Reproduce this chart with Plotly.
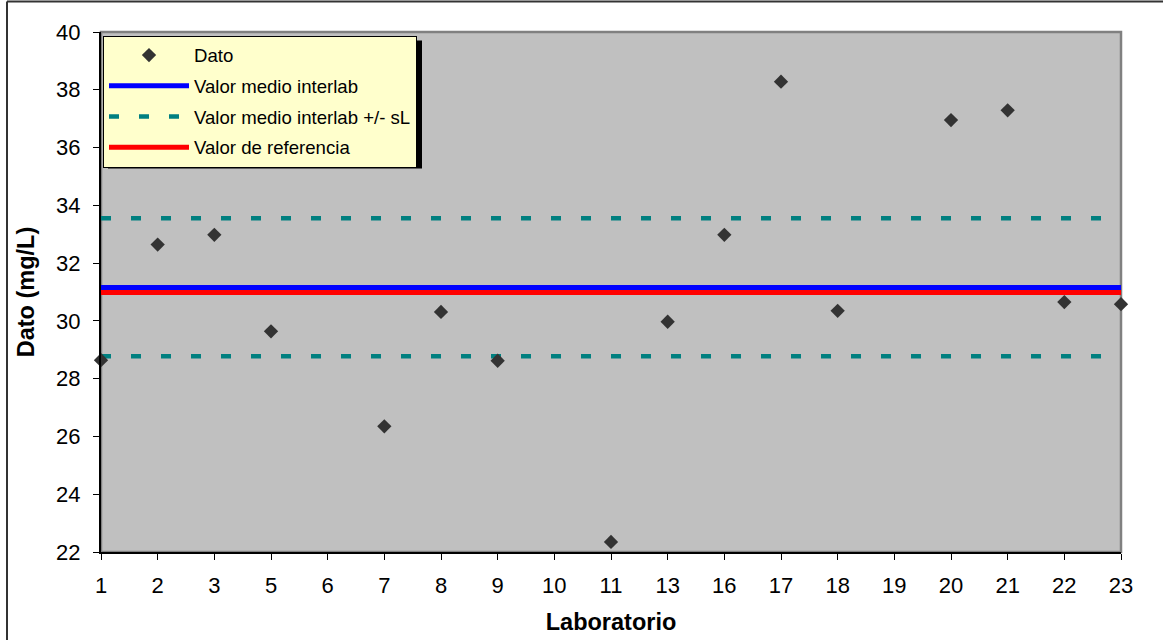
import plotly.graph_objects as go

# ---- data ----
all_labs = ["1", "2", "3", "5", "6", "7", "8", "9", "10", "11", "13", "16",
            "17", "18", "19", "20", "21", "22", "23"]
labs = ["1", "2", "3", "5", "7", "8", "9", "11", "13", "16", "17", "18",
        "20", "21", "22", "23"]
dato = [28.64, 32.64, 32.98, 29.64, 26.35, 30.31, 28.62, 22.35, 29.97, 32.98,
        38.28, 30.35, 36.95, 37.29, 30.65, 30.58]
valor_medio = 31.16
valor_medio_mas_sl = 33.55
valor_medio_menos_sl = 28.78
valor_referencia = 30.98
y_ticks = [22, 24, 26, 28, 30, 32, 34, 36, 38, 40]

FONT = "Liberation Sans, Arial, sans-serif"
n = len(all_labs)

fig = go.Figure()

fig.add_trace(go.Scatter(
    x=all_labs, y=[valor_medio] * n, mode="lines",
    name="Valor medio interlab", legendgroup="m", legendrank=2,
    line=dict(color="#0000FF", width=5), hoverinfo="skip"))
fig.add_trace(go.Scatter(
    x=all_labs, y=[valor_medio_mas_sl] * n, mode="lines",
    name="Valor medio interlab +/- sL", legendgroup="s", legendrank=3,
    line=dict(color="#008080", width=4.5, dash="10px,20px"), hoverinfo="skip"))
fig.add_trace(go.Scatter(
    x=all_labs, y=[valor_medio_menos_sl] * n, mode="lines",
    name="Valor medio interlab +/- sL", legendgroup="s", showlegend=False,
    line=dict(color="#008080", width=4.5, dash="10px,20px"), hoverinfo="skip"))
fig.add_trace(go.Scatter(
    x=all_labs, y=[valor_referencia] * n, mode="lines",
    name="Valor de referencia", legendgroup="r", legendrank=4,
    line=dict(color="#FF0000", width=5), hoverinfo="skip"))
fig.add_trace(go.Scatter(
    x=labs, y=dato, mode="markers", name="Dato", legendgroup="d", legendrank=1,
    marker=dict(symbol="diamond", size=11, color="#333333"),
    cliponaxis=False))

# px -> paper helpers (plot area 101..1121 x 32..552)
def px_x(p):
    return (p - 101) / 1020.0

def px_y(p):
    return (552 - p) / 520.0

LEG_TOP = 35.5
shapes = [
    # plot-area border (gray, top/right)
    dict(type="rect", xref="paper", yref="paper", x0=0, x1=1, y0=0, y1=1,
         line=dict(color="#808080", width=2.5), layer="below"),
    # legend shadow
    dict(type="rect", xref="paper", yref="paper",
         x0=px_x(108), x1=px_x(422), y0=px_y(LEG_TOP + 5 + 128), y1=px_y(LEG_TOP + 5),
         fillcolor="#000000", line=dict(width=0), layer="above"),
    # outer chart border (top and left)
    dict(type="line", xref="paper", yref="paper",
         x0=px_x(7), x1=px_x(1170), y0=px_y(1.5), y1=px_y(1.5),
         line=dict(color="#333333", width=2)),
    dict(type="line", xref="paper", yref="paper",
         x0=px_x(7), x1=px_x(7), y0=px_y(1.5), y1=px_y(650),
         line=dict(color="#333333", width=2)),
]

fig.update_layout(
    width=1163, height=640,
    margin=dict(l=101, r=42, t=32, b=88, autoexpand=False),
    paper_bgcolor="#FFFFFF", plot_bgcolor="#C0C0C0",
    font=dict(family=FONT, color="#000000"),
    showlegend=True,
    legend=dict(
        x=px_x(103), y=px_y(LEG_TOP), xanchor="left", yanchor="top",
        bgcolor="#FFFFCC", bordercolor="#000000", borderwidth=1,
        font=dict(family=FONT, size=18.6, color="#000000"),
        itemwidth=80, tracegroupgap=3.5, traceorder="grouped",
    ),
    shapes=shapes,
    xaxis=dict(
        type="category", categoryorder="array", categoryarray=all_labs,
        range=[0, n - 1], showgrid=False, zeroline=False, automargin=False,
        showline=True, linecolor="#000000", linewidth=2,
        ticks="outside", ticklen=6, tickwidth=1, tickcolor="#000000",
        tickfont=dict(family=FONT, size=22), ticklabelstandoff=7,
        title=dict(text="<b>Laboratorio</b>", font=dict(family=FONT, size=23.5),
                   standoff=16),
    ),
    yaxis=dict(
        range=[22, 40], tickvals=y_ticks, showgrid=False, zeroline=False,
        automargin=False,
        showline=True, linecolor="#000000", linewidth=2,
        ticks="outside", ticklen=6, tickwidth=1, tickcolor="#000000",
        tickfont=dict(family=FONT, size=22), ticklabelstandoff=8,
        title=dict(text="<b>Dato (mg/L)</b>", font=dict(family=FONT, size=23.5),
                   standoff=15),
    ),
)

fig.write_html("out.html")
